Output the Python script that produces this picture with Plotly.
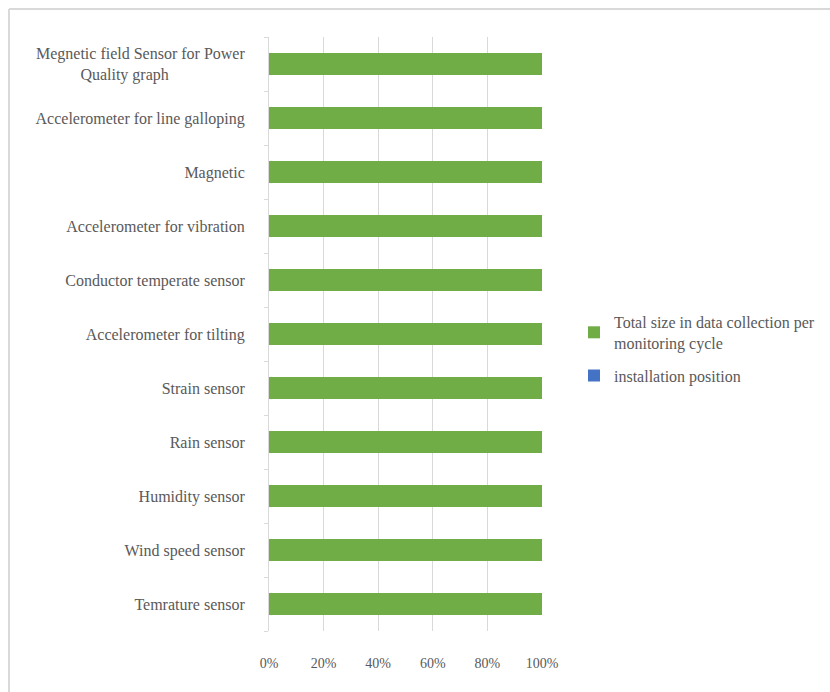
import plotly.graph_objects as go

categories = [
    "Temrature sensor",
    "Wind speed sensor",
    "Humidity sensor",
    "Rain sensor",
    "Strain sensor",
    "Accelerometer for tilting",
    "Conductor temperate sensor",
    "Accelerometer for vibration",
    "Magnetic",
    "Accelerometer for line galloping",
    "Megnetic field Sensor for Power<br>Quality graph" + "&nbsp;" * 19,
]
total_size = [100] * 11
installation_position = [0] * 11
x_ticks = [0, 20, 40, 60, 80, 100]
x_tick_labels = ["0%", "20%", "40%", "60%", "80%", "100%"]

GREEN = "#70ad47"
BLUE = "#4472c4"
GRID = "#d9d9d9"
TXT = "#595959"
FONT = "Liberation Serif, Times New Roman, serif"

fig = go.Figure()
fig.add_trace(go.Bar(
    y=categories, x=total_size, orientation="h",
    name="Total size in data collection per<br>monitoring cycle",
    legendgroup="a",
    marker=dict(color=GREEN, line=dict(width=0)),
))
fig.add_trace(go.Bar(
    y=categories, x=installation_position, orientation="h",
    name="installation position",
    legendgroup="b",
    marker=dict(color=BLUE, line=dict(width=0)),
))

W, H = 830, 692
L, R, T, B = 269, 288, 37, 61
pw, ph = W - L - R, H - T - B

def px(x):
    return (x - L) / pw

def py(y):
    return (H - B - y) / ph

fig.update_layout(
    width=W, height=H,
    barmode="stack", bargap=0.61,
    margin=dict(l=L, r=R, t=T, b=B, pad=0, autoexpand=False),
    paper_bgcolor="white", plot_bgcolor="white",
    font=dict(family=FONT, size=16, color=TXT),
    showlegend=True,
    legend=dict(
        x=px(574), y=py(305), xanchor="left", yanchor="top",
        traceorder="grouped", font=dict(size=16, color=TXT),
        itemwidth=30, tracegroupgap=9, bgcolor="rgba(0,0,0,0)",
    ),
    xaxis=dict(
        range=[0, 100], tickvals=x_ticks, ticktext=x_tick_labels,
        showgrid=True, gridcolor=GRID, gridwidth=1,
        zeroline=False, showline=False, ticks="",
        ticklabelstandoff=22, fixedrange=True,
        tickfont=dict(size=14, color=TXT, family=FONT),
    ),
    yaxis=dict(
        type="category", showgrid=False, zeroline=False,
        showline=True, linecolor=GRID, linewidth=1,
        ticks="outside", tickson="boundaries", ticklen=4, tickcolor=GRID,
        ticklabelstandoff=20,
        tickfont=dict(size=16, color=TXT, family=FONT),
    ),
    shapes=[
        dict(type="line", xref="paper", yref="paper",
             x0=px(9), x1=px(9), y0=py(9), y1=py(700),
             line=dict(color=GRID, width=2)),
        dict(type="line", xref="paper", yref="paper",
             x0=px(9), x1=px(840), y0=py(9), y1=py(9),
             line=dict(color=GRID, width=2)),
    ],
)

fig.write_html("out.html")
